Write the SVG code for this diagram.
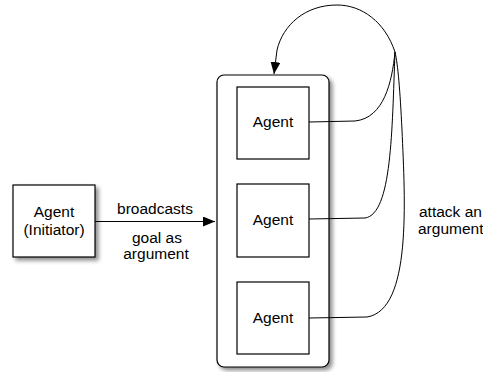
<svg xmlns="http://www.w3.org/2000/svg" width="483" height="372" viewBox="0 0 483 372">
<style>
.box{fill:#fff;stroke:#000;stroke-width:1.2}
.lbl{font-family:"Liberation Sans",Arial,sans-serif;font-size:15.5px;fill:#000}
.mid{text-anchor:middle}
.conn{fill:none;stroke:#000;stroke-width:1}
</style>
<defs>
<filter id="sh" x="-20%" y="-20%" width="150%" height="150%">
<feGaussianBlur in="SourceAlpha" stdDeviation="2"/>
<feOffset dx="3" dy="3" result="b"/>
<feComponentTransfer><feFuncA type="linear" slope="0.45"/></feComponentTransfer>
<feMerge><feMergeNode/><feMergeNode in="SourceGraphic"/></feMerge>
</filter>
<marker id="ah" markerWidth="12" markerHeight="10" refX="12" refY="5" orient="auto" markerUnits="userSpaceOnUse">
<path d="M0,0 L12,5 L0,10 Z" fill="#000"/>
</marker>
</defs>
<g id="initiator">
<rect class="box" x="13" y="185" width="82" height="72" filter="url(#sh)"/>
<text class="lbl mid" x="54" y="217">Agent</text>
<text class="lbl mid" x="54" y="235">(Initiator)</text>
</g>
<g id="group">
<rect class="box" x="217" y="75" width="112" height="292" rx="7" ry="7" filter="url(#sh)"/>
</g>
<g id="agent1">
<rect class="box" x="237" y="87" width="72" height="72"/>
<text class="lbl mid" x="273" y="127">Agent</text>
</g>
<g id="agent2">
<rect class="box" x="237" y="184" width="72" height="73"/>
<text class="lbl mid" x="273" y="225">Agent</text>
</g>
<g id="agent3">
<rect class="box" x="237" y="282" width="72" height="72"/>
<text class="lbl mid" x="273" y="323">Agent</text>
</g>
<g id="connectors">
<path class="conn" d="M95,221.5 L215,221.5" marker-end="url(#ah)"/>
<path class="conn" d="M309,122 L355,121 C384,118 392,82 395,52"/>
<path class="conn" d="M309,219 L365,218 C392,214 392,130 395,52"/>
<path class="conn" d="M309,318 L367,317 C412,310 405,200 402,130 C400,90 398,65 395,52"/>
<path class="conn" d="M395,52 C385,22 362,5 337,5 C305,5 283,25 277,50 C276,58 275,66 274,74" marker-end="url(#ah)"/>
<text class="lbl mid" x="155" y="214">broadcasts</text>
<text class="lbl mid" x="157" y="243">goal as</text>
<text class="lbl mid" x="156" y="259">argument</text>
<text class="lbl" x="419" y="217">attack an</text>
<text class="lbl" x="418" y="234">argument</text>
</g>
</svg>
